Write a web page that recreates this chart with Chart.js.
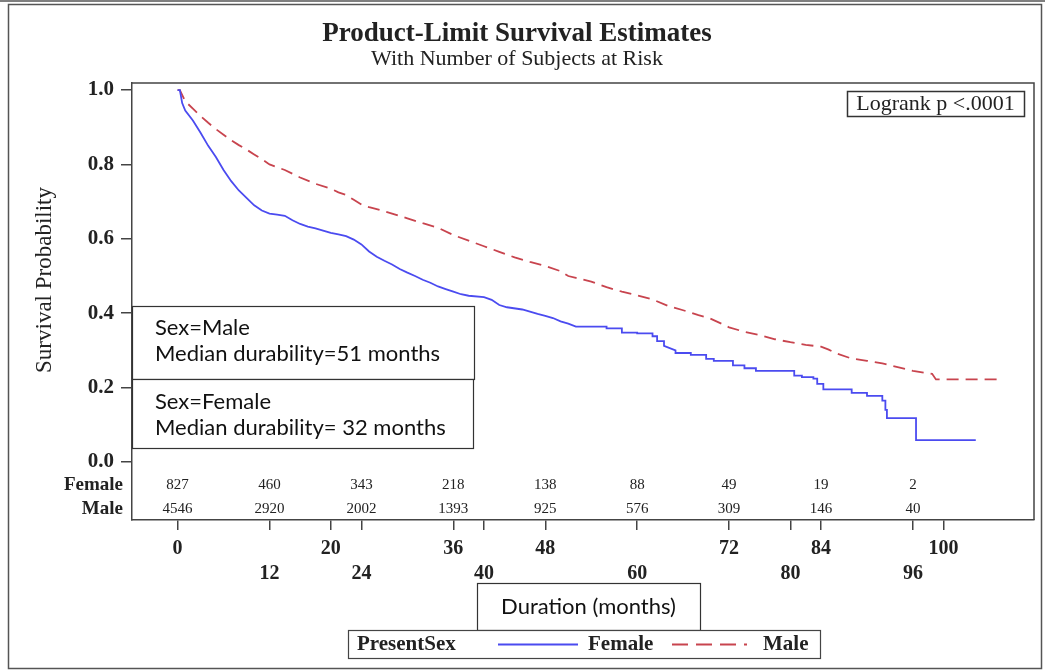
<!DOCTYPE html>
<html>
<head>
<meta charset="utf-8">
<script src="https://cdn.jsdelivr.net/npm/chart.js@4.4.1/dist/chart.umd.min.js"></script>
<style>
  html, body { margin: 0; padding: 0; background: #fff; }
  #wrap { position: relative; width: 1045px; height: 671px; }
</style>
</head>
<body>
<div id="wrap"><canvas id="kmChart"></canvas></div>
<script>
// Kaplan-Meier estimates (months, survival probability)
// repeated months mark the visible vertical steps
const femaleMonths = [0, 0.3, 0.6, 1, 2, 3, 4, 5, 6, 7, 8, 9, 10, 11, 12, 13, 14, 15, 16, 17, 18, 19, 20, 21, 22, 23, 24, 25, 26, 27, 28, 29, 30, 31, 32, 33, 34, 35, 36, 37, 38, 40, 41, 42, 43, 45, 46, 47, 48, 49, 50, 51, 52,
  56, 56, 58, 58, 60, 60, 62, 62, 62.6, 62.6, 63.5, 63.5, 65, 65, 67, 67, 69, 69, 70, 70, 72.5, 72.5, 74, 74, 75.5, 75.5, 80.5, 80.5, 81.5, 81.5, 83, 83, 83.5, 83.5, 84.3, 84.3, 88, 88, 90, 90, 92, 92, 92.4, 92.4, 92.6, 92.6, 96.4, 96.4, 104.2];
const femaleSurv = [1.0, 1.0, 0.965, 0.945, 0.918, 0.885, 0.85, 0.82, 0.785, 0.755, 0.73, 0.71, 0.69, 0.676, 0.668, 0.665, 0.662, 0.65, 0.64, 0.633, 0.628, 0.622, 0.616, 0.612, 0.607, 0.598, 0.585, 0.566, 0.552, 0.541, 0.531, 0.519, 0.509, 0.5, 0.49, 0.482, 0.472, 0.465, 0.458, 0.451, 0.447, 0.443, 0.436, 0.422, 0.416, 0.41, 0.404, 0.398, 0.393, 0.387, 0.378, 0.372, 0.364,
  0.364, 0.359, 0.359, 0.348, 0.348, 0.346, 0.346, 0.338, 0.338, 0.325, 0.325, 0.312, 0.3, 0.293, 0.293, 0.288, 0.288, 0.277, 0.277, 0.272, 0.272, 0.26, 0.26, 0.252, 0.252, 0.245, 0.245, 0.232, 0.232, 0.228, 0.228, 0.224, 0.224, 0.21, 0.21, 0.195, 0.195, 0.186, 0.186, 0.178, 0.178, 0.165, 0.165, 0.14, 0.14, 0.118, 0.118, 0.059, 0.059];
const maleMonths = [0, 0.3, 1, 2, 3, 4, 5, 6, 7, 8, 9, 10, 11, 12, 14, 16, 18, 20, 21, 22, 23, 24, 25, 26, 28, 30, 32, 34, 36, 38, 40, 42, 44, 46, 48, 50, 51, 52, 54, 56, 58, 60, 62, 64, 66, 68, 69.5, 71, 72, 74, 76, 78, 80, 82, 84, 85, 86, 88, 90, 92, 94, 96, 98.5, 99, 107.2];
const maleSurv = [1.0, 1.0, 0.97, 0.95, 0.93, 0.912, 0.895, 0.88, 0.865, 0.852, 0.84, 0.827, 0.814, 0.8, 0.785, 0.765, 0.748, 0.735, 0.725, 0.718, 0.705, 0.692, 0.685, 0.68, 0.668, 0.655, 0.642, 0.63, 0.61, 0.595, 0.58, 0.565, 0.55, 0.538, 0.527, 0.513, 0.5, 0.495, 0.485, 0.47, 0.458, 0.448, 0.437, 0.42, 0.408, 0.395, 0.386, 0.372, 0.362, 0.35, 0.341, 0.33, 0.322, 0.315, 0.31, 0.302, 0.292, 0.278, 0.272, 0.265, 0.255, 0.245, 0.237, 0.222, 0.222];

// number of subjects at risk
const riskMonths = [0, 12, 24, 36, 48, 60, 72, 84, 96];
const femaleAtRisk = [827, 460, 343, 218, 138, 88, 49, 19, 2];
const maleAtRisk = [4546, 2920, 2002, 1393, 925, 576, 309, 146, 40];

// tick labels (x labels are staggered over two rows)
const xTicksUpper = [0, 20, 36, 48, 72, 84, 100];
const xTicksLower = [12, 24, 40, 60, 80, 96];
const yTicks = [0, 0.2, 0.4, 0.6, 0.8, 1.0];

const SERIF = "'Liberation Serif', 'Times New Roman', serif";
const SANS = "Lato, 'Open Sans', sans-serif";
const INK = "#222";
const FEMALE_COLOR = "#4b4bf0";
const MALE_COLOR = "#c8444e";

function toPoints(xs, ys) {
  return xs.map((t, i) => ({ x: t, y: ys[i] }));
}

function drawBox(ctx, x0, y0, x1, y1) {
  ctx.fillStyle = "#fff";
  ctx.fillRect(x0, y0, x1 - x0, y1 - y0);
  ctx.strokeRect(x0 + 0.5, y0 + 0.5, x1 - x0, y1 - y0);
}

const kmExtras = {
  id: "kmExtras",
  afterDraw(chart) {
    const { ctx, chartArea: a, scales } = chart;
    const x = scales.x;
    ctx.save();

    // outer frame
    ctx.strokeStyle = "#555";
    ctx.lineWidth = 1.5;
    ctx.beginPath();
    ctx.moveTo(0, 1);
    ctx.lineTo(chart.width, 1);
    ctx.stroke();
    ctx.strokeRect(8.5, 4.5, chart.width - 12, chart.height - 7);

    // top and right sides of the plot frame
    ctx.strokeStyle = "#444";
    ctx.beginPath();
    ctx.moveTo(a.left, a.top);
    ctx.lineTo(a.right, a.top);
    ctx.lineTo(a.right, a.bottom);
    ctx.stroke();

    // y axis title
    ctx.save();
    ctx.fillStyle = INK;
    ctx.font = `23px ${SERIF}`;
    ctx.textAlign = "center";
    ctx.textBaseline = "middle";
    ctx.translate(45, 280);
    ctx.rotate(-Math.PI / 2);
    ctx.fillText("Survival Probability", 0, 0);
    ctx.restore();

    // subjects at risk table
    const rowF = a.bottom - 35;
    const rowM = a.bottom - 11;
    ctx.fillStyle = INK;
    ctx.textBaseline = "middle";
    ctx.textAlign = "right";
    ctx.font = `bold 19px ${SERIF}`;
    ctx.fillText("Female", a.left - 9, rowF);
    ctx.fillText("Male", a.left - 9, rowM);
    ctx.textAlign = "center";
    ctx.font = `15px ${SERIF}`;
    riskMonths.forEach((t, i) => {
      const px = x.getPixelForValue(t);
      ctx.fillText(String(femaleAtRisk[i]), px, rowF);
      ctx.fillText(String(maleAtRisk[i]), px, rowM);
    });

    // logrank box
    ctx.strokeStyle = "#333";
    ctx.lineWidth = 1.5;
    drawBox(ctx, 847, 91, 1024, 116);
    ctx.fillStyle = INK;
    ctx.font = `22px ${SERIF}`;
    ctx.fillText("Logrank p <.0001", 935.5, 104);

    // median durability boxes
    ctx.lineWidth = 1.2;
    drawBox(ctx, a.left, 306, 474, 379);
    drawBox(ctx, a.left, 379, 473, 448);
    ctx.fillStyle = "#111";
    ctx.textAlign = "left";
    ctx.font = `22px ${SANS}`;
    ctx.fillText("Sex=Male", 155, 328);
    ctx.fillText("Median durability=51 months", 155, 354);
    ctx.fillText("Sex=Female", 155, 402);
    ctx.fillText("Median durability= 32 months", 155, 428);

    // x axis title box
    drawBox(ctx, 477, 583, 700, 630);
    ctx.fillStyle = "#111";
    ctx.textAlign = "center";
    ctx.fillText("Duration (months)", 588.5, 607);

    // legend
    ctx.strokeStyle = "#444";
    drawBox(ctx, 348, 630, 820, 658);
    const ly = 644.5;
    ctx.fillStyle = INK;
    ctx.textAlign = "left";
    ctx.font = `bold 21px ${SERIF}`;
    ctx.fillText("PresentSex", 357, ly);
    ctx.fillText("Female", 588, ly);
    ctx.fillText("Male", 763, ly);
    ctx.lineWidth = 1.8;
    ctx.strokeStyle = FEMALE_COLOR;
    ctx.beginPath();
    ctx.moveTo(498, ly);
    ctx.lineTo(578, ly);
    ctx.stroke();
    ctx.strokeStyle = MALE_COLOR;
    ctx.setLineDash([16, 8, 16, 8, 16, 8, 3, 8]);
    ctx.beginPath();
    ctx.moveTo(672, ly);
    ctx.lineTo(755, ly);
    ctx.stroke();

    ctx.restore();
  },
};

const kmCtx = document.getElementById("kmChart").getContext("2d");
const kmChart = new Chart(kmCtx, {
  type: "line",
  data: {
    datasets: [
      {
        label: "Female",
        data: toPoints(femaleMonths, femaleSurv),
        borderColor: FEMALE_COLOR,
        borderWidth: 1.8,
        tension: 0,
        pointRadius: 0,
        fill: false,
      },
      {
        label: "Male",
        data: toPoints(maleMonths, maleSurv),
        borderColor: MALE_COLOR,
        borderWidth: 1.8,
        borderDash: [12, 7],
        tension: 0,
        pointRadius: 0,
        fill: false,
      },
    ],
  },
  options: {
    responsive: true,
    maintainAspectRatio: false,
    animation: false,
    layout: { padding: { top: 0, left: 0, right: 11, bottom: 0 } },
    plugins: {
      legend: { display: false },
      tooltip: { enabled: false },
      title: {
        display: true,
        text: "Product-Limit Survival Estimates",
        color: INK,
        font: { family: SERIF, size: 27, weight: "bold", lineHeight: 1.0 },
        padding: { top: 21, bottom: 0 },
      },
      subtitle: {
        display: true,
        text: "With Number of Subjects at Risk",
        color: INK,
        font: { family: SERIF, size: 22, lineHeight: 1.0 },
        padding: { top: 0, bottom: 13 },
      },
    },
    scales: {
      x: {
        type: "linear",
        min: -5.95,
        max: 111.8,
        afterBuildTicks(scale) {
          scale.ticks = [...xTicksUpper, ...xTicksLower]
            .sort((p, q) => p - q)
            .map((v) => ({ value: v }));
        },
        afterFit(scale) {
          scale.height = 151;
        },
        ticks: {
          autoSkip: false,
          maxRotation: 0,
          padding: 6,
          color: INK,
          font: { family: SERIF, size: 20, weight: "bold", lineHeight: 1.25 },
          callback(v) {
            return xTicksLower.includes(v) ? ["", String(v)] : [String(v)];
          },
        },
        grid: { drawOnChartArea: false, tickLength: 10, color: "#444", lineWidth: 1.5 },
        border: { display: true, color: "#444", width: 1.5 },
      },
      y: {
        min: -0.156,
        max: 1.019,
        afterBuildTicks(scale) {
          scale.ticks = yTicks.map((v) => ({ value: v }));
        },
        afterFit(scale) {
          scale.width = 132;
        },
        ticks: {
          padding: 7,
          color: INK,
          font: { family: SERIF, size: 21, weight: "bold" },
          callback(v) {
            return v.toFixed(1);
          },
        },
        grid: { drawOnChartArea: false, tickLength: 11, color: "#444", lineWidth: 1.5 },
        border: { display: true, color: "#444", width: 1.5 },
      },
    },
  },
  plugins: [kmExtras],
});
</script>
</body>
</html>
